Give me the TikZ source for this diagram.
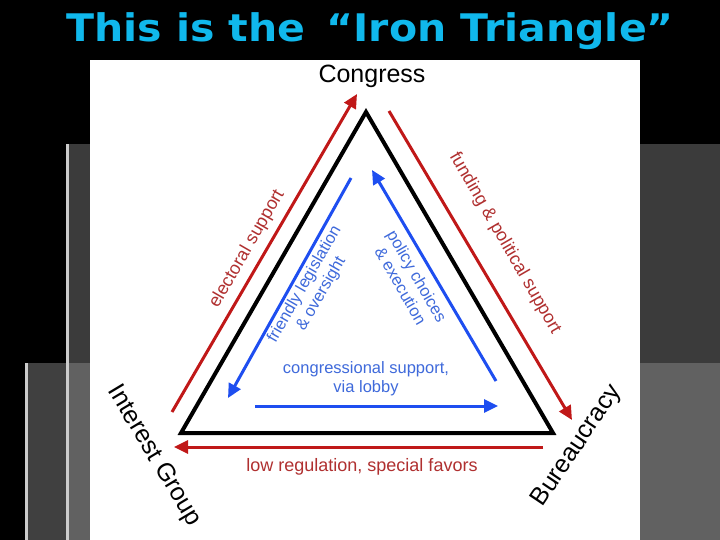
\documentclass[tikz,border=0pt]{standalone}
\usepackage{fontspec}
\setmainfont{Liberation Sans}
\newfontfamily\titlefont{DejaVu Sans}
\usetikzlibrary{arrows.meta}
\definecolor{tcyan}{HTML}{10B8EC}
\definecolor{ared}{HTML}{C01818}
\definecolor{ablue}{HTML}{1E4EF0}
\definecolor{tred}{HTML}{B03030}
\definecolor{tblue}{HTML}{3F6ADB}
\tikzset{
  redarr/.style={draw=ared,line width=3pt,-{Triangle[length=14pt,width=13pt]}},
  bluearr/.style={draw=ablue,line width=3pt,-{Triangle[length=14pt,width=13pt]}},
  rlab/.style={text=tred,font=\fontsize{18}{19}\selectfont,align=center,inner sep=1pt},
  blab/.style={text=tblue,font=\fontsize{16.5}{19}\selectfont,align=center,inner sep=1pt},
  klab/.style={text=black,font=\fontsize{25}{27}\selectfont,inner sep=1pt},
}
\begin{document}
\begin{tikzpicture}[x=1pt,y=-1pt]
\useasboundingbox (0,0) rectangle (720,540);
\fill[black] (0,0) rectangle (720,540);
\fill[black!77] (66,144) rectangle (720,363);
\fill[black!75] (25,363) rectangle (720,540);
\fill[black!62] (66,363) rectangle (720,540);
\fill[black!20] (66,144) rectangle (69,540);
\fill[black!20] (25,363) rectangle (28,540);
\fill[white] (90,60) rectangle (640,540);
% title
\node (title) [text=tcyan,font=\titlefont\fontsize{38}{40}\selectfont\bfseries,xscale=1.08] at (370,31) {This is the \,“Iron Triangle”};
% triangle
\coordinate (C) at (366,112);
\coordinate (I) at (181,433);
\coordinate (B) at (553,433);
\draw[line width=4pt,line join=miter] (C) -- (I) -- (B) -- cycle;
\node (cong) [klab] at (372,76) {Congress};
\node (ig) [klab,rotate=-59] at (154,456) {Interest Group};
\node (bu) [klab,rotate=56] at (577,446) {Bureaucracy};
% red arrows
\coordinate (r1a) at (172,412); \coordinate (r1b) at (357,94);
\coordinate (r2a) at (389,111); \coordinate (r2b) at (572,420);
\coordinate (r3a) at (543,447); \coordinate (r3b) at (174,447);
\draw[redarr] (r1a) -- (r1b);
\draw[redarr] (r2a) -- (r2b);
\draw[redarr] (r3a) -- (r3b);
% blue arrows
\coordinate (b1a) at (351,178); \coordinate (b1b) at (228,398);
\coordinate (b2a) at (496,381); \coordinate (b2b) at (372,170);
\coordinate (b3a) at (255,406); \coordinate (b3b) at (498,406);
\draw[bluearr] (b1a) -- (b1b);
\draw[bluearr] (b2a) -- (b2b);
\draw[bluearr] (b3a) -- (b3b);
% labels
\node (l1) [rlab,rotate=60] at (247,249) {electoral support};
\node (l2) [rlab,rotate=-60] at (505,243) {funding \& political support};
\node (l3) [rlab] at (362,467) {low regulation, special favors};
\node (l4) [blab,rotate=60] at (313,289) {friendly legislation\\\& oversight};
\node (l5) [blab,rotate=-60] at (409,281) {policy choices\\\& execution};
\node (l6) [blab] at (366,379) {congressional support,\\via lobby};
\end{tikzpicture}
\end{document}
